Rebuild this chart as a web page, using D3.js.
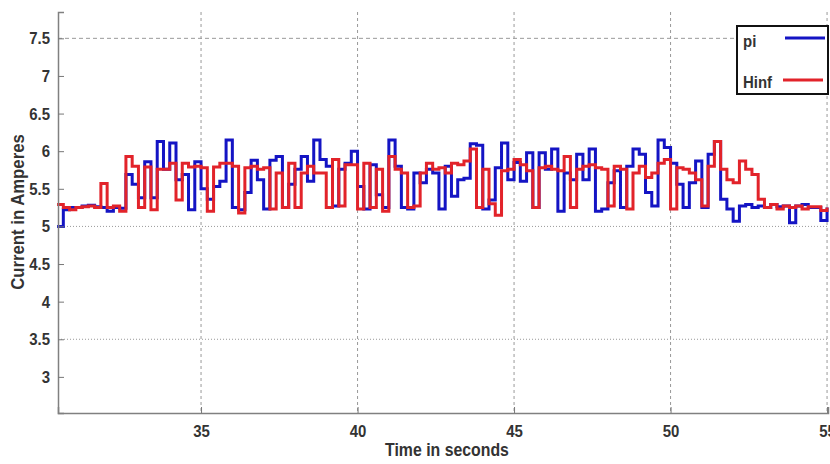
<!DOCTYPE html>
<html>
<head>
<meta charset="utf-8">
<script src="https://cdn.jsdelivr.net/npm/d3@7"></script>
<style>
  body { margin: 0; background: #fff; }
  text { font-family: "Liberation Sans", Arial, sans-serif; font-weight: bold; fill: #333; }
</style>
</head>
<body>
<script>
// sample start time and period of the step signals (seconds)
let tStart = 30.4;
let tStep = 0.2;

// current samples for the PI controller (blue)
let piValues = [5.0, 5.22, 5.25, 5.25, 5.27, 5.28, 5.26, 5.25, 5.2, 5.25,
  5.24, 5.69, 5.56, 5.38, 5.86, 5.38, 6.13, 5.76, 6.11, 5.62,
  5.69, 5.22, 5.86, 5.5, 5.36, 5.53, 5.6, 6.15, 5.25, 5.22,
  5.45, 5.88, 5.62, 5.23, 5.88, 5.93, 5.25, 5.56, 5.76, 5.93,
  5.6, 6.15, 5.89, 5.8, 5.27, 5.76, 5.84, 6.0, 5.53, 5.23,
  5.82, 5.42, 5.25, 6.15, 5.8, 5.25, 5.23, 5.71, 5.58, 5.76,
  5.71, 5.23, 5.8, 5.4, 5.62, 5.64, 6.1, 6.08, 5.23, 5.35,
  5.78, 6.11, 5.62, 5.85, 5.6, 5.98, 5.25, 5.98, 5.76, 6.03,
  5.2, 5.71, 5.62, 5.96, 5.62, 6.03, 5.2, 5.23, 5.58, 5.74,
  5.25, 5.8, 6.03, 5.96, 5.45, 5.27, 6.15, 6.05, 5.84, 5.56,
  5.25, 5.58, 5.87, 5.25, 5.96, 6.13, 5.36, 5.23, 5.07, 5.27,
  5.29, 5.25, 5.27, 5.25, 5.29, 5.26, 5.27, 5.05, 5.27, 5.29,
  5.25, 5.25, 5.08, 5.25];

// current samples for the H-infinity controller (red)
let hinfValues = [5.29, 5.25, 5.22, 5.25, 5.26, 5.27, 5.25, 5.57, 5.25, 5.27,
  5.2, 5.93, 5.8, 5.25, 5.79, 5.22, 5.76, 5.76, 5.84, 5.35,
  5.84, 5.79, 5.8, 5.78, 5.2, 5.79, 5.84, 5.84, 5.8, 5.18,
  5.78, 5.8, 5.76, 5.78, 5.23, 5.71, 5.25, 5.84, 5.25, 5.71,
  5.8, 5.71, 5.71, 5.25, 5.89, 5.27, 5.82, 5.82, 5.23, 5.84,
  5.25, 5.76, 5.2, 5.93, 5.76, 5.71, 5.25, 5.27, 5.71, 5.84,
  5.76, 5.78, 5.71, 5.84, 5.82, 5.87, 6.03, 5.25, 5.76, 5.3,
  5.15, 5.74, 5.76, 5.89, 5.82, 5.74, 5.25, 5.78, 5.8, 5.76,
  5.74, 5.93, 5.25, 5.76, 5.8, 5.82, 5.78, 5.76, 5.27, 5.8,
  5.76, 5.23, 5.71, 5.8, 5.65, 5.71, 5.84, 5.89, 5.23, 5.78,
  5.76, 5.71, 5.62, 5.27, 5.8, 6.13, 5.76, 5.62, 5.58, 5.87,
  5.76, 5.69, 5.36, 5.25, 5.29, 5.23, 5.27, 5.25, 5.27, 5.23,
  5.26, 5.26, 5.21, 5.25];

let xTicks = [35, 40, 45, 50, 55];
let yTicks = [3, 3.5, 4, 4.5, 5, 5.5, 6, 6.5, 7, 7.5];
let yGrid = [3.5, 5, 7.5];
let seriesNames = ["pi", "Hinf"];
let seriesColors = ["#1414c4", "#e2232a"];

let width = 830;
let height = 464;
let plotLeft = 58, plotRight = 828, plotTop = 12, plotBottom = 413;

let svg = d3.select("body").append("svg")
    .attr("width", width)
    .attr("height", height);

let x = d3.scaleLinear().domain([30.43, 55.03]).range([plotLeft, plotRight]);
let y = d3.scaleLinear().domain([2.52, 7.85]).range([plotBottom, plotTop]);

// grid lines
svg.selectAll(".vgrid").data(xTicks).enter().append("line")
    .attr("x1", d => x(d)).attr("x2", d => x(d))
    .attr("y1", plotTop).attr("y2", plotBottom)
    .attr("stroke", "#999").attr("stroke-width", 1)
    .attr("stroke-dasharray", "3,3");

svg.selectAll(".hgrid").data(yGrid).enter().append("line")
    .attr("x1", plotLeft).attr("x2", plotRight)
    .attr("y1", d => y(d)).attr("y2", d => y(d))
    .attr("stroke", "#999").attr("stroke-width", 1)
    .attr("stroke-dasharray", d => d == 7.5 ? "4,3" : "1,2");

// step lines
let toPoints = vals => vals.map((v, i) => ({ t: tStart + i * tStep, v: v }));
let line = d3.line().x(d => x(d.t)).y(d => y(d.v)).curve(d3.curveStepAfter);

[piValues, hinfValues].forEach((vals, i) => {
    svg.append("path")
        .datum(toPoints(vals))
        .attr("fill", "none")
        .attr("stroke", seriesColors[i])
        .attr("stroke-width", 3)
        .attr("d", line);
});

// axes
let xAxis = d3.axisBottom(x).tickValues(xTicks).tickSize(-6).tickPadding(12).tickFormat(d3.format("d"));
let gx = svg.append("g").attr("transform", "translate(0," + plotBottom + ")").call(xAxis);
let yAxis = d3.axisLeft(y).tickValues(yTicks).tickSize(-6).tickPadding(8).tickFormat(d => d);
let gy = svg.append("g").attr("transform", "translate(" + plotLeft + ",0)").call(yAxis);

[gx, gy].forEach(g => {
    g.select(".domain").attr("stroke", "#808080").attr("stroke-width", 1.5);
    g.selectAll(".tick line").attr("stroke", "#777");
    g.selectAll("text").attr("font-size", 17).attr("font-family", null).attr("fill", "#333");
});

// axis titles
svg.append("text")
    .attr("x", 447).attr("y", 456)
    .attr("text-anchor", "middle")
    .attr("font-size", 18)
    .text("Time in seconds");

svg.append("text")
    .attr("transform", "translate(24,212) rotate(-90)")
    .attr("text-anchor", "middle")
    .attr("font-size", 19)
    .text("Current in Amperes");

// legend
let legend = svg.append("g");
legend.append("rect")
    .attr("x", 737).attr("y", 26).attr("width", 91).attr("height", 68)
    .attr("fill", "#fff").attr("stroke", "#111").attr("stroke-width", 2);

seriesNames.forEach((name, i) => {
    legend.append("text")
        .attr("x", 743).attr("y", 47 + i * 41)
        .attr("font-size", 17)
        .attr("fill", "#111")
        .text(name);
    legend.append("line")
        .attr("x1", i == 0 ? 785 : 783).attr("x2", i == 0 ? 825 : 823)
        .attr("y1", 38 + i * 42).attr("y2", 38 + i * 42)
        .attr("stroke", seriesColors[i]).attr("stroke-width", 3);
});

// the source figure's lettering is slightly condensed
svg.selectAll("text").each(function () {
    let w = this.getComputedTextLength();
    d3.select(this).attr("textLength", w * 0.88).attr("lengthAdjust", "spacingAndGlyphs");
});
</script>
</body>
</html>
